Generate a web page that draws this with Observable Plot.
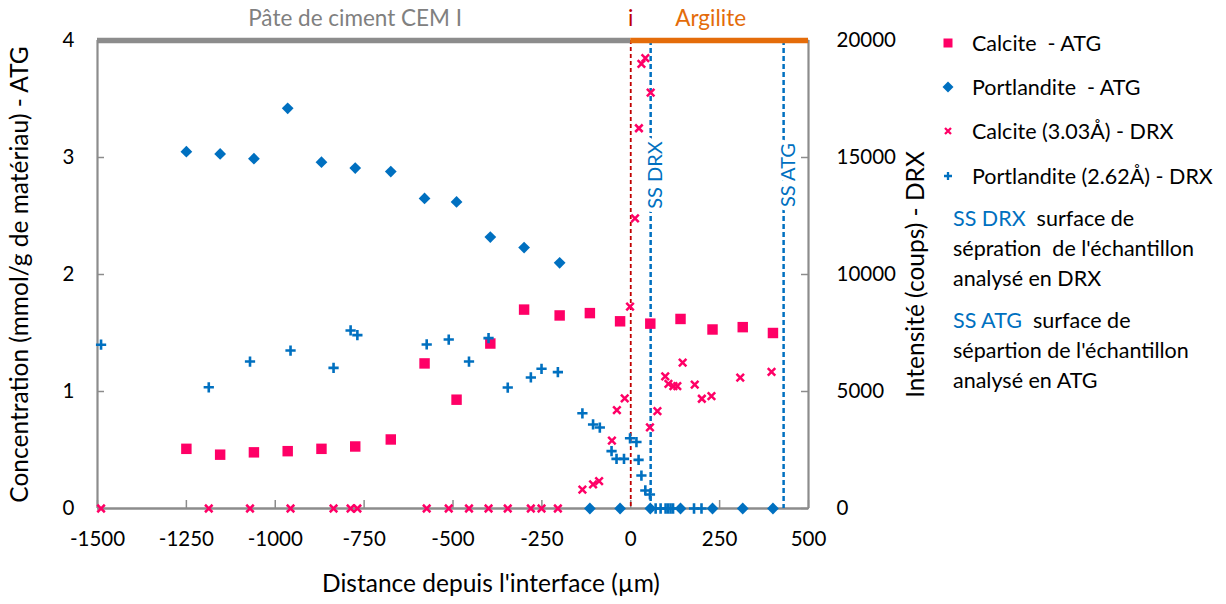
<!DOCTYPE html>
<html><head><meta charset="utf-8">
<script src="https://cdn.jsdelivr.net/npm/d3@7"></script>
<script src="https://cdn.jsdelivr.net/npm/@observablehq/plot@0.6"></script>
<style>
body{margin:0;background:#fff;font-family:Lato,"Open Sans",sans-serif;}
#wrap{position:relative;width:1226px;height:604px;overflow:hidden;}
#chart{position:absolute;left:0;top:0;}
.lg{position:absolute;font-size:21.5px;line-height:30px;height:30px;color:#000;white-space:pre;}
.mk{position:absolute;width:16px;height:16px;}
.blue{color:#0070C0;}
</style></head><body>
<div id="wrap"><div id="chart"></div><div id="legend"></div></div>
<script>
// ATG samples (left axis, mmol/g)
const xATG = [-1250,-1155,-1060,-965,-870,-775,-675,-580,-490,-395,-300,-200,-115,-30,55,140,230,315,400];
const calciteATG = [0.51,0.46,0.48,0.49,0.51,0.53,0.59,1.24,0.93,1.41,1.70,1.65,1.67,1.60,1.58,1.62,1.53,1.55,1.50];
const portlanditeATG = [3.05,3.03,2.99,3.42,2.96,2.91,2.88,2.65,2.62,2.32,2.23,2.10,0,0,0,0,0,0,0];
// DRX samples (right axis, counts)
const xCalciteDRX = [-1490,-1187,-1071,-957,-836,-788,-769,-574,-512,-455,-400,-346,-281,-251,-205,-136,-106,-89,-53,-39,-17,-2,12,23,30,41,56,54,75,97,106,120,131,146,180,200,227,308,396];
const calciteDRX = [0,0,0,0,0,0,0,0,0,0,0,0,0,0,0,810,1030,1170,2900,4200,4710,8630,12400,16250,19000,19250,17770,3470,4160,5650,5330,5230,5230,6230,5290,4690,4800,5590,5840];
const xPortlanditeDRX = [-1490,-1187,-1071,-957,-836,-788,-769,-574,-512,-455,-400,-346,-281,-251,-205,-136,-106,-87,-54,-40,-19,-2,16,22,30,41,54,70,84,98,105,112,119,178,199];
const portlanditeDRX = [7000,5180,6280,6750,6010,7610,7410,7010,7220,6280,7280,5170,5600,5970,5830,4070,3590,3460,2450,2120,2120,3000,2840,2080,1410,770,600,0,0,0,0,0,0,0,0];
// ticks
const xTicks = [-1500,-1250,-1000,-750,-500,-250,0,250,500];
const yLeftTicks = [0,1,2,3,4];
const yRightTicks = [0,5000,10000,15000,20000];
// annotations
const zones = [{name:"Pâte de ciment CEM I", from:-1500, to:0}, {name:"Argilite", from:0, to:500}];
const interfaceX = [0];
const ssLines = [{label:"SS DRX", x:56},{label:"SS ATG", x:430}];

const ratio = 20000/4;
const PINK = "#FF0066", BLUE = "#0070C0", GRAY = "#8C8C8C", ORANGE = "#E46C0A", RED = "#C00000";
const atg = xATG.map((x,i)=>({x, c:calciteATG[i], p:portlanditeATG[i]}));
const cdrx = xCalciteDRX.map((x,i)=>({x, v:calciteDRX[i]}));
const pdrx = xPortlanditeDRX.map((x,i)=>({x, v:portlanditeDRX[i]}));

const fontTick = 20.5, fontTitle = 24.5;
const chart = Plot.plot({
  width: 930, height: 604,
  marginLeft: 97, marginRight: 122, marginTop: 40, marginBottom: 96,
  style: {fontFamily: "Lato, 'Open Sans', sans-serif", background: "transparent", color: "#000"},
  x: {domain: [-1500, 500]},
  y: {domain: [0, 4]},
  marks: [
    Plot.axisX(xTicks, {tickSize: -8, tickPadding: 31, stroke: GRAY, strokeWidth: 1.5, fontSize: fontTick, fill: "#000", tickFormat: d => String(d), label: null}),
    Plot.axisY(yLeftTicks, {anchor: "left", tickSize: -7, tickPadding: 30, stroke: GRAY, strokeWidth: 1.5, fontSize: fontTick, fill: "#000", tickFormat: d => String(d), label: null}),
    Plot.axisY(yRightTicks.map(v => v/ratio), {anchor: "right", tickSize: -8, tickPadding: 36, stroke: GRAY, strokeWidth: 1.5, fontSize: fontTick, fill: "#000", tickFormat: d => String(Math.round(d*ratio)), label: null}),
    Plot.ruleX([-1500, 500], {stroke: GRAY, strokeWidth: 2.2}),
    Plot.ruleY([0], {stroke: GRAY, strokeWidth: 2.5}),
    Plot.ruleX(interfaceX, {stroke: RED, strokeWidth: 1.8, strokeDasharray: "4,3"}),
    Plot.ruleX(ssLines, {x: "x", stroke: BLUE, strokeWidth: 2.5, strokeDasharray: "5,3"}),
    Plot.text(ssLines, {x: "x", y: 2.85, text: "label", rotate: -90, dx: 5, fill: BLUE, fontSize: 20, stroke: "white", strokeWidth: 9, paintOrder: "stroke"}),
    Plot.ruleY(zones, {y: 4, x1: "from", x2: "to", stroke: (d,i) => i === 0 ? GRAY : ORANGE, strokeWidth: 5.5}),
    Plot.text(zones, {x: d => (d.from + d.to)/2, y: 4, dy: -22, dx: -9, text: "name", fill: (d,i) => i === 0 ? "#808080" : ORANGE, fontSize: 22.5}),
    Plot.text(interfaceX, {x: d => d, y: 4, dy: -22, text: () => "i", fill: RED, fontSize: 22.5}),
    Plot.dot(atg, {x: "x", y: "c", symbol: "square", r: 5.9, fill: PINK}),
    Plot.dot(atg, {x: "x", y: "p", symbol: "diamond2", r: 5.3, fill: BLUE}),
    Plot.dot(cdrx, {x: "x", y: d => d.v/ratio, symbol: "times", r: 3.5, stroke: PINK, fill: "none", strokeWidth: 2.5}),
    Plot.dot(pdrx, {x: "x", y: d => d.v/ratio, symbol: "plus", r: 3.4, stroke: BLUE, fill: "none", strokeWidth: 2.6}),
    Plot.text(["Concentration (mmol/g de matériau) - ATG"], {frameAnchor: "left", textAnchor: "middle", rotate: -90, dx: -77, fontSize: fontTitle, fill: "#000"}),
    Plot.text(["Intensité (coups) - DRX"], {frameAnchor: "right", textAnchor: "middle", rotate: -90, dx: 108, fontSize: fontTitle, fill: "#000"}),
    Plot.text(["Distance depuis l'interface (µm)"], {frameAnchor: "bottom", textAnchor: "middle", dx: 38, dy: 83, fontSize: fontTitle, fill: "#000"})
  ]
});
document.getElementById("chart").appendChild(chart);

// legend
const lg = document.getElementById("legend");
const items = [
  {t:"Calcite  - ATG", y:43, m:`<rect x="3.5" y="3.5" width="9" height="9" fill="${PINK}"/>`},
  {t:"Portlandite  - ATG", y:87, m:`<path d="M8 2.5 L13.5 8 L8 13.5 L2.5 8Z" fill="${BLUE}"/>`},
  {t:"Calcite (3.03Å) - DRX", y:131, m:`<path d="M5 5 L11 11 M11 5 L5 11" stroke="${PINK}" stroke-width="2.3"/>`},
  {t:"Portlandite (2.62Å) - DRX", y:176, m:`<path d="M8 4 L8 12 M4 8 L12 8" stroke="${BLUE}" stroke-width="2.3"/>`}
];
for (const it of items) {
  const s = document.createElement("div");
  s.className = "mk"; s.style.left = "940px"; s.style.top = (it.y-8)+"px";
  s.innerHTML = `<svg width="16" height="16">${it.m}</svg>`;
  lg.appendChild(s);
  const d = document.createElement("div");
  d.className = "lg"; d.style.left = "972px"; d.style.top = (it.y-15)+"px";
  d.textContent = it.t;
  lg.appendChild(d);
}
const notes = [
  {y:218, h:'<span class="blue">SS DRX</span>  surface de'},
  {y:248, h:"sépration  de l'échantillon"},
  {y:278, h:"analysé en DRX"},
  {y:320, h:'<span class="blue">SS ATG</span>  surface de'},
  {y:350, h:"sépartion de l'échantillon"},
  {y:380, h:"analysé en ATG"}
];
for (const n of notes) {
  const d = document.createElement("div");
  d.className = "lg"; d.style.left = "953px"; d.style.top = (n.y-15)+"px";
  d.innerHTML = n.h;
  lg.appendChild(d);
}
</script>
</body></html>
